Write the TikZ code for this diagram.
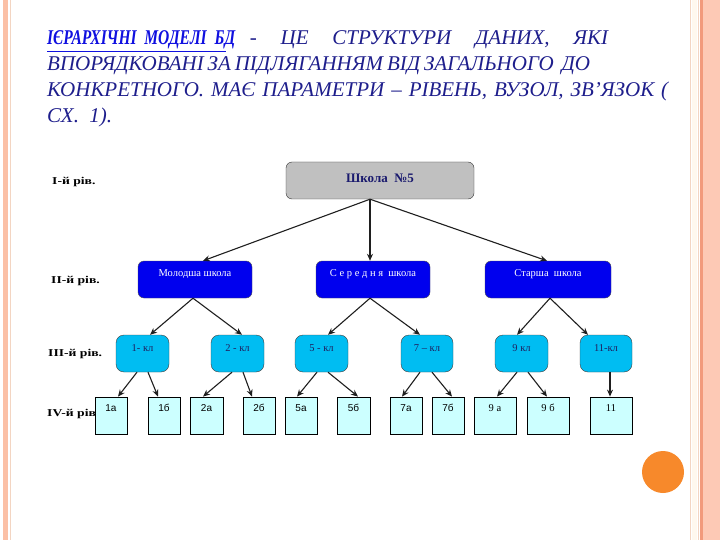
\documentclass[tikz,border=0pt]{standalone}
\usepackage{fontspec}
\setmainfont{Liberation Serif}
\setsansfont{Liberation Sans}
\newfontfamily\lvfont[FakeStretch=1.3]{Liberation Serif}
\newfontfamily\headfont[FakeStretch=0.74,UprightFont={* Bold Italic},ItalicFont={* Bold Italic},BoldFont={* Bold Italic},BoldItalicFont={* Bold Italic}]{Liberation Serif}
\usetikzlibrary{arrows.meta}
\definecolor{titleblue}{HTML}{1E1E8C}
\definecolor{headblue}{HTML}{1010E0}
\definecolor{lvtwo}{HTML}{0000EE}
\definecolor{lvthree}{HTML}{00BDF2}
\definecolor{lvfour}{HTML}{CCFFFF}
\definecolor{gray1}{HTML}{C0C0C0}
\definecolor{salmon}{HTML}{FDC9B5}
\definecolor{salmonleft}{HTML}{FBC0A6}
\definecolor{salmondark}{HTML}{F29A7C}
\definecolor{peach}{HTML}{F3D5C2}
\definecolor{cream}{HTML}{FFF8EE}
\definecolor{orangedot}{HTML}{F7892B}
\definecolor{navy}{HTML}{1A1A6E}
\definecolor{txtthree}{HTML}{202060}
\tikzset{
  titleline/.style={anchor=base west, inner sep=0pt, text=titleblue, font=\itshape\fontsize{21}{24}\selectfont},
  levlabel/.style={anchor=base west, inner sep=0pt, font=\lvfont\bfseries\fontsize{10.5}{12}\selectfont},
  schoolbox/.style={draw=black!80, fill=gray1, rounded corners=6pt, minimum width=188pt,
     inner xsep=2pt, inner ysep=4pt, text height=17pt, text depth=12pt, text=navy,
     font=\bfseries\fontsize{13}{15}\selectfont},
  twobox/.style={draw=black!70, fill=lvtwo, rounded corners=6pt, inner xsep=2pt, inner ysep=4pt,
     text height=11pt, text depth=18pt, text=white, font=\fontsize{10.5}{12}\selectfont},
  threebox/.style={draw=black!75, fill=lvthree, rounded corners=8pt, minimum width=53pt, inner xsep=2pt,
     inner ysep=4pt, text height=12pt, text depth=17pt, text=txtthree, font=\fontsize{10.5}{12}\selectfont},
  fourbox/.style={draw=black, line width=0.8pt, fill=lvfour, inner xsep=2pt, inner ysep=4pt,
     text height=10pt, text depth=19pt, text=black, font=\sffamily\fontsize{10}{11}\selectfont},
  fourserif/.style={fourbox, font=\rmfamily\fontsize{10.5}{12}\selectfont},
  conn/.style={draw=black!88, line width=1.1pt, -{Stealth[length=7pt,width=6pt]}},
}
\begin{document}
\begin{tikzpicture}[x=1pt,y=-1pt]
\useasboundingbox (0,0) rectangle (720,540);
\fill[white] (0,0) rectangle (720,540);
% side stripes
\fill[salmonleft] (3,0) rectangle (7.5,540);
\draw[peach, line width=1pt] (10.5,0) -- (10.5,540);
\draw[peach, line width=1.5pt] (690.5,0) -- (690.5,540);
\fill[cream] (692,0) rectangle (697,540);
\draw[peach, line width=1pt] (698,0) -- (698,540);
\fill[salmondark] (700,0) rectangle (702.5,540);
\fill[salmon] (702.5,0) rectangle (720,540);
% orange dot
\fill[orangedot] (663,472) circle (21);

% title
\node[titleline] (t1) at (47,45) {\makebox[561pt][s]{{\color{headblue}\underline{\makebox[179pt][l]{\headfont ІЄРАРХІЧНІ\ \ МОДЕЛІ\ \ БД}}} - ЦЕ СТРУКТУРИ ДАНИХ, ЯКІ}};
\node[titleline] (t2) at (47,71) {\makebox[543pt][s]{ВПОРЯДКОВАНІ ЗА ПІДЛЯГАННЯМ ВІД ЗАГАЛЬНОГО\ \ ДО}};
\node[titleline] (t3) at (47,97) {\makebox[621pt][s]{КОНКРЕТНОГО. МАЄ ПАРАМЕТРИ – РІВЕНЬ, ВУЗОЛ, ЗВ'ЯЗОК (}};
\node[titleline] (t4) at (47,123) {СХ.\ \ 1).};

% level labels
\node[levlabel] (l1) at (52,185) {I-й рів.};
\node[levlabel] (l2) at (51,283) {II-й рів.};
\node[levlabel] (l3) at (48,356) {III-й рів.};
\node[levlabel] (l4) at (47,416) {IV-й рів.};

% level 1
\node[schoolbox] (school) at (380,180.5) {Школа\ \ №5};
% level 2
\node[twobox, minimum width=114pt] (ml) at (195,279.5) {Молодша школа};
\node[twobox, minimum width=114pt] (sr) at (373,279.5) {С е р е д н я\ \ школа};
\node[twobox, minimum width=126pt] (st) at (548,279.5) {Старша\ \ школа};
% level 3
\node[threebox] (c1) at (142.5,353.5) {1- кл};
\node[threebox] (c2) at (237.5,353.5) {2 - кл};
\node[threebox] (c5) at (321.5,353.5) {5 - кл};
\node[threebox, minimum width=52pt] (c7) at (427,353.5) {7 – кл};
\node[threebox] (c9) at (521.5,353.5) {9 кл};
\node[threebox, minimum width=52pt] (c11) at (606,353.5) {11-кл};
% level 4
\node[fourbox, minimum width=32pt] (a1) at (111,415.5) {1а};
\node[fourbox, minimum width=32pt] (b1) at (164,415.5) {1б};
\node[fourbox, minimum width=33pt] (a2) at (206.5,415.5) {2а};
\node[fourbox, minimum width=32pt] (b2) at (259,415.5) {2б};
\node[fourbox, minimum width=32pt] (a5) at (301,415.5) {5а};
\node[fourbox, minimum width=33pt] (b5) at (353.5,415.5) {5б};
\node[fourbox, minimum width=32pt] (a7) at (406,415.5) {7а};
\node[fourbox, minimum width=32pt] (b7) at (448,415.5) {7б};
\node[fourserif, minimum width=42pt] (a9) at (495,415.5) {9 а};
\node[fourserif, minimum width=42pt] (b9) at (548,415.5) {9 б};
\node[fourserif, minimum width=42pt] (d11) at (611,415.5) {11};

% connectors level 1 -> 2
\draw[conn] ([xshift=-10pt]school.south) -- ([xshift=8pt]ml.north);
\draw[conn] ([xshift=-10pt]school.south) -- ([xshift=-3pt]sr.north);
\draw[conn] ([xshift=-10pt]school.south) -- ([xshift=-1pt]st.north);
% level 2 -> 3
\draw[conn] ([xshift=-2pt]ml.south) -- ([xshift=7.5pt]c1.north);
\draw[conn] ([xshift=-2pt]ml.south) -- ([xshift=4.5pt]c2.north);
\draw[conn] ([xshift=-3pt]sr.south) -- ([xshift=6.5pt]c5.north);
\draw[conn] ([xshift=-3pt]sr.south) -- ([xshift=-7pt]c7.north);
\draw[conn] ([xshift=2pt]st.south) -- ([xshift=-4.5pt]c9.north);
\draw[conn] ([xshift=2pt]st.south) -- ([xshift=-18pt]c11.north);
% level 3 -> 4
\draw[conn] ([xshift=-5.5pt]c1.south) -- ([xshift=7pt]a1.north);
\draw[conn] ([xshift=5.5pt]c1.south) -- ([xshift=-6pt]b1.north);
\draw[conn] ([xshift=-5.5pt]c2.south) -- ([xshift=-3.5pt]a2.north);
\draw[conn] ([xshift=5.5pt]c2.south) -- ([xshift=-7pt]b2.north);
\draw[conn] ([xshift=-4.5pt]c5.south) -- ([xshift=-4pt]a5.north);
\draw[conn] ([xshift=6.5pt]c5.south) -- ([xshift=4.5pt]b5.north);
\draw[conn] ([xshift=-7pt]c7.south) -- ([xshift=-4pt]a7.north);
\draw[conn] ([xshift=5pt]c7.south) -- ([xshift=4pt]b7.north);
\draw[conn] ([xshift=-4.5pt]c9.south) -- ([xshift=2pt]a9.north);
\draw[conn] ([xshift=6.5pt]c9.south) -- ([xshift=-1pt]b9.north);
\draw[conn] ([xshift=4pt]c11.south) -- ([xshift=-1pt]d11.north);
\end{tikzpicture}
\end{document}
